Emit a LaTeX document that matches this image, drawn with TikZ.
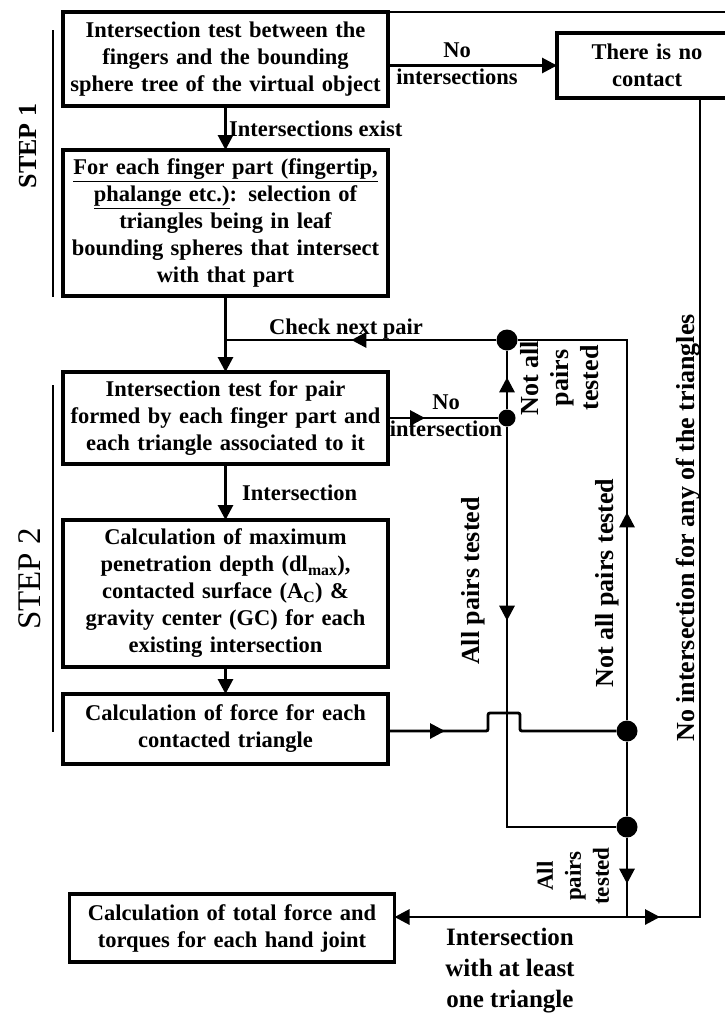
\documentclass[tikz,border=0pt]{standalone}
\usepackage{fontspec}
\setmainfont{Liberation Serif}
\usetikzlibrary{arrows.meta,%
                decorations.markings,%
                positioning}

\begin{document}
\begin{tikzpicture}[x=1pt, y=1pt,
                    main node/.style={draw, line width=3.2pt, outer sep=0pt, inner sep=3pt,
                      align=center, text width=318pt, minimum width=325pt,
                      font=\bfseries\fontsize{22.5}{27}\selectfont},
                    dot node/.style={circle, fill, inner sep=0pt, minimum size=21pt},
                    label node/.style={font=\bfseries\fontsize{22.5}{27}\selectfont, align=center, inner sep=0pt},
                    side node/.style={font=\bfseries\fontsize{26}{30}\selectfont, align=center, inner sep=0pt, rotate=90},
                    flow/.style={line width=2.9pt},
                    end arrow/.style={-{Triangle[length=15pt,width=15pt]}},
                    arrow on/.style={postaction={decorate}, decoration={markings,
                      mark=at position #1 with {\arrow{Triangle[length=15pt,width=15pt]}}}}]

  \useasboundingbox (0,0) rectangle (724,-1017);

  \node[main node, minimum height=94pt] (1) at (225.5,-59) {Intersection test between the\\ fingers and the bounding\\ sphere tree of the virtual object};
  \node[main node, minimum height=146pt] (2) [below=44pt of 1] {\underline{For each finger part (fingertip,}\\ \underline{phalange etc.)}: selection of\\ triangles being in leaf\\ bounding spheres that intersect\\ with that part};
  \node[main node, minimum height=92pt] (3) [below=76pt of 2] {Intersection test for pair\\ formed by each finger part and\\ each triangle associated to it};
  \node[main node, minimum height=147pt] (4) [below=56pt of 3] {Calculation of maximum\\ penetration depth (dl\textsubscript{max}),\\ contacted surface (A\textsubscript{C}) \&\\ gravity center (GC) for each\\ existing intersection};
  \node[main node, minimum height=70pt] (5) [below=27pt of 4] {Calculation of force for each\\ contacted triangle};
  \node[main node, minimum height=68pt] (6) at (232,-928) {Calculation of total force and\\ torques for each hand joint};
  \node[main node, minimum height=65pt, minimum width=180pt, text width=170pt] (7) at (647,-65.5) {There is no\\ contact};

  \node[dot node] (8) at (507,-340) {};
  \node[dot node, minimum size=17pt] (9) at (507,-418) {};
  \node[dot node] (10) at (627,-731) {};
  \node[dot node] (11) at (627,-827) {};
  \coordinate (12) at (627,-917);
  \coordinate (13) at (700,-917);

  % step brackets and top rule
  \draw[line width=1.5pt] (1.north east) -- ++(345,0);
  \draw[flow] (53,-30) -- (53,-297);
  \draw[flow] (53,-385) -- (53,-732);

  \draw[flow, end arrow] (1.east |- 7.west) -- (7.west);
  \draw[flow, end arrow] (1) -- (2);
  \draw[flow, end arrow] (2) -- (3);
  \draw[flow, end arrow] (3) -- (4);
  \draw[flow, end arrow] (4) -- (5);
  \draw[flow, arrow on=145pt] (8) -- (8 -| 2.south);
  \draw[flow, arrow on=37pt] (3.east |- 9) -- (9);
  \draw[flow, arrow on=32pt] (9) -- (8);
  \draw[flow, arrow on=194pt] (9) |- (11);
  \draw[flow, arrow on=208pt] (10) |- (8);
  \draw[flow, rounded corners=2pt, arrow on=57pt] (5.east |- 10) -- ++(100,0) -- ++(0,18) -- ++(32,0) -- ++(0,-18) -- (10);
  \draw[flow] (10) -- (11);
  \draw[flow, arrow on=46pt] (11) -- (12);
  \draw[flow, end arrow] (12) -- (6.east |- 12);
  \draw[flow, arrow on=33pt] (12) -- (13) -- (7.south -| 13);

  \node[label node] (14) at (457,-63.5) {No\\ intersections};
  \node[label node, anchor=base west] (15) at (229,-136) {Intersections exist};
  \node[label node, anchor=base] (16) at (346,-334) {Check next pair};
  \node[label node] (17) at (446,-416) {No\\ intersection};
  \node[label node, anchor=base west] (18) at (242,-500) {Intersection};
  \node[side node] (19) at (560,-378) {Not all\\ pairs\\ tested};
  \node[side node] (20) at (473,-581) {All pairs tested};
  \node[side node] (21) at (607,-583) {Not all pairs tested};
  \node[side node] (22) at (688,-528) {No intersection for any of the triangles};
  \node[side node, font=\bfseries\fontsize{23}{28}\selectfont] (23) at (573,-876) {All\\ pairs\\ tested};
  \node[label node, font=\bfseries\fontsize{25}{31}\selectfont] (24) at (510,-971) {Intersection\\ with at least\\ one triangle};
  \node[rotate=90, font=\bfseries\fontsize{26}{30}\selectfont] (25) at (28,-146) {STEP 1};
  \node[rotate=90, font=\fontsize{33}{36}\selectfont] (26) at (30,-579) {STEP 2};
\end{tikzpicture}
\end{document}
